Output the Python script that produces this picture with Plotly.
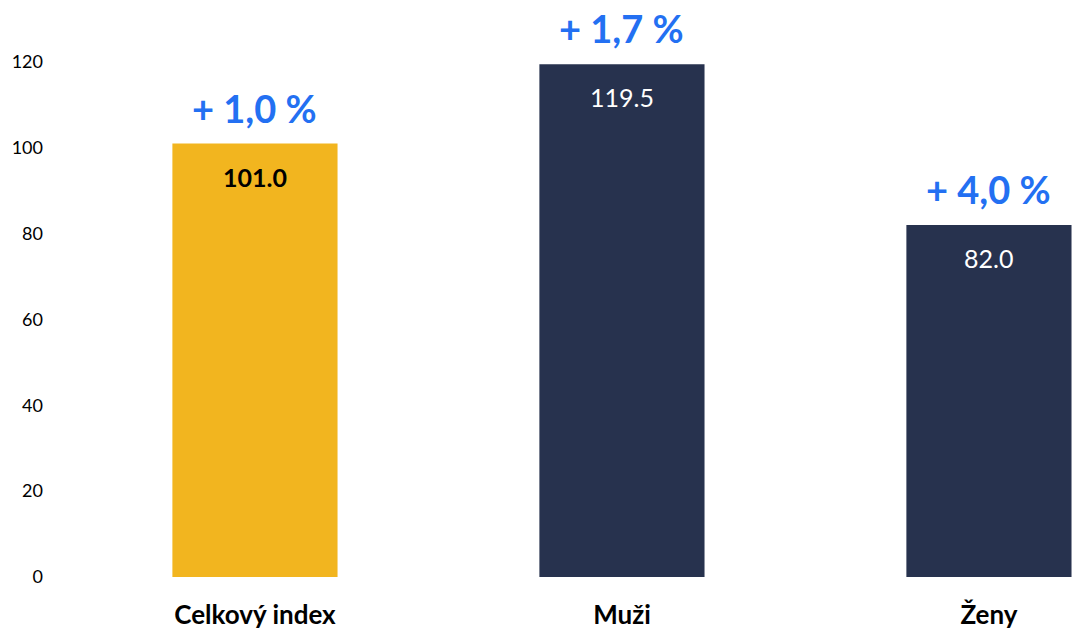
import plotly.graph_objects as go

categories = ["Celkový index", "Muži", "Ženy"]
values = [101.0, 119.5, 82.0]
changes = ["+ 1,0 %", "+ 1,7 %", "+ 4,0 %"]
value_labels = ["101.0", "119.5", "82.0"]
bar_colors = ["#F2B51F", "#27324E", "#27324E"]
label_colors = ["#000000", "#FFFFFF", "#FFFFFF"]
label_bold = [True, False, False]

FONT = "Lato"

fig = go.Figure()
fig.add_trace(
    go.Bar(
        x=categories,
        y=values,
        marker=dict(color=bar_colors, line=dict(width=0)),
        width=0.45,
        hoverinfo="x+y",
        showlegend=False,
    )
)

for cat, val, chg, lab, col, bold in zip(
    categories, values, changes, value_labels, label_colors, label_bold
):
    # growth label above the bar
    fig.add_annotation(
        x=cat, y=val, text=f"<b>{chg}</b>", showarrow=False,
        yanchor="middle", yshift=36, borderpad=0,
        font=dict(family=FONT, size=38, color="#2370F2"),
    )
    # value inside the bar
    fig.add_annotation(
        x=cat, y=val, text=f"<b>{lab}</b>" if bold else lab, showarrow=False,
        yanchor="middle", yshift=-33,
        font=dict(family=FONT, size=25, color=col),
    )

# page body has an 8px margin, so the figure is sized to fit the window
fig.update_layout(
    width=1076,
    height=621,
    margin=dict(l=62, r=0, t=54, b=52),
    plot_bgcolor="white",
    paper_bgcolor="white",
    font=dict(family=FONT, color="#000000"),
)
fig.update_xaxes(
    range=[-0.504, 2.259],
    automargin=False,
    showgrid=False,
    showline=False,
    ticks="",
    ticklabelstandoff=20,
    tickfont=dict(family=FONT, size=26, color="#000000", weight="bold"),
)
fig.update_yaxes(
    range=[0, 120],
    automargin=False,
    tickvals=[0, 20, 40, 60, 80, 100, 120],
    showgrid=False,
    zeroline=False,
    showline=False,
    ticks="",
    ticklabelstandoff=26,
    tickfont=dict(family=FONT, size=18, color="#000000"),
)

fig.write_html("out.html")
